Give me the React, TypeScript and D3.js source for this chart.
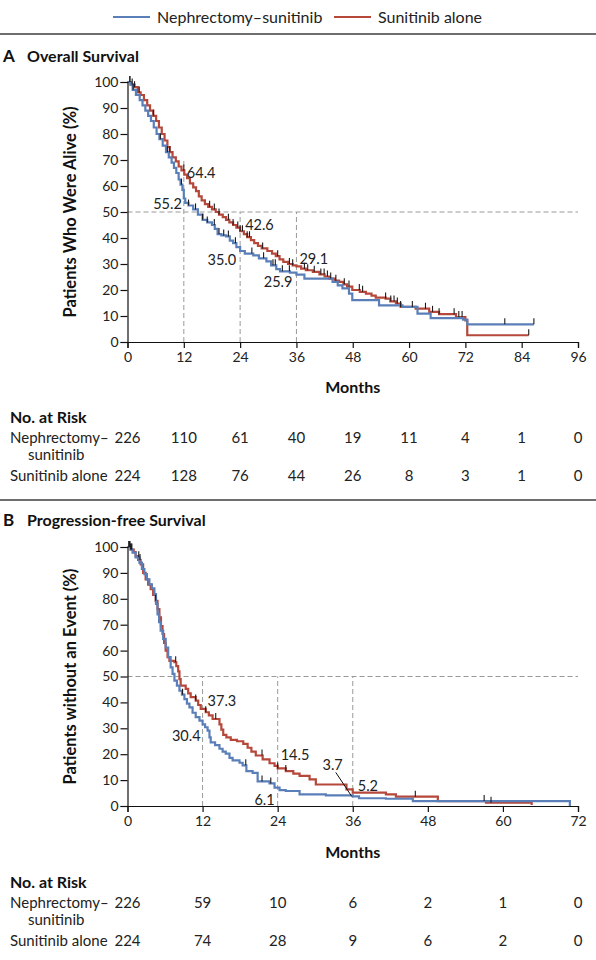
import { useEffect, useRef } from 'react';
import * as d3 from 'd3';

// legend / series
const seriesNames = ['Nephrectomy–sunitinib', 'Sunitinib alone'];
const seriesColors = ['#5a7fb8', '#b5473b'];

// A: overall survival, step points [month, %]
const osNephTimes = [0, 0.6, 1.1, 1.8, 2.6, 3.2, 3.8, 4.4, 5.0, 5.6, 6.2, 6.8, 7.5, 8.2, 8.8, 9.4, 9.9, 10.4, 10.9, 11.3, 11.7, 12, 12.3, 13, 14, 15, 16, 17, 18, 18.6, 19.2, 20, 21, 21.8, 22.5, 23.2, 24, 25, 26.8, 28, 29.6, 30.6, 31.7, 32.5, 34.6, 36, 37.7, 43.7, 44.8, 45.8, 47.2, 47.9, 53.6, 58.6, 61.8, 64.6, 71.5, 72.4];
const osNephSurv = [100, 99, 97, 95, 93, 91, 89, 87, 85, 82.5, 80, 78, 75.5, 73, 71, 69, 67, 65, 62.5, 60.5, 58.5, 55.2, 53.5, 52.5, 51, 49, 47, 46, 45, 43.5, 41.5, 41, 40.6, 39, 38, 36.5, 35.0, 34, 33.3, 32.2, 31, 29.5, 28, 27.2, 26.7, 25.9, 24.4, 23.1, 21.8, 20.6, 18.6, 16.1, 14.1, 13.5, 10.9, 9.2, 8.6, 6.8];
const osNephEnd = 86.6;
const osNephCensor = [0.5, 1.2, 7, 8.5, 11.5, 13, 14.5, 16, 17, 18.5, 19.5, 20.5, 21.5, 23, 26.5, 29, 31, 31.5, 33, 34.5, 80.4, 86.6];

const osSunTimes = [0, 0.8, 1.5, 2.2, 2.8, 3.5, 4.2, 4.8, 5.5, 6.1, 6.7, 7.3, 7.9, 8.5, 9.0, 9.6, 10.3, 10.9, 11.5, 12.1, 12.7, 13.3, 14, 14.6, 15.2, 15.8, 16.5, 17.2, 18, 18.8, 19.5, 20.3, 21, 21.7, 22.5, 23.2, 24, 24.8, 25.5, 26.3, 27, 27.8, 28.6, 29.8, 30.8, 31.6, 32.4, 33.2, 34.2, 35.2, 36, 37, 38, 39.5, 40.9, 42, 43, 44.2, 45.1, 46, 46.8, 47.9, 49.5, 50.8, 52, 52.9, 55, 56, 57.2, 58.2, 61.4, 64.3, 66.4, 70, 72, 72.4];
const osSunSurv = [100, 99, 98, 96, 95, 93, 91, 89, 87, 85, 82.5, 80, 77.5, 75, 73, 71, 69.5, 67.5, 66, 64.4, 63, 61, 59.5, 58, 56, 54.5, 53, 52, 51, 50, 49, 48, 47, 46, 45, 44, 42.6, 41.5, 40.3, 39.2, 38, 37, 36, 35, 34, 33, 31.8, 30.8, 30, 29.5, 29.1, 28.2, 27.6, 27, 26, 25.2, 24.4, 23.6, 23.1, 22.2, 21.3, 20, 19.3, 18.6, 17.8, 17.1, 16.7, 15.6, 14.8, 13.5, 12.8, 11.6, 10.7, 9.6, 8.3, 2.6];
const osSunEnd = 85.5;
const osSunCensor = [0.5, 1, 1.5, 2.5, 5.5, 9, 12, 17.5, 18.5, 19.5, 21.5, 22.5, 23.5, 24, 24.5, 25.5, 26, 28.8, 32, 34.5, 35.2, 37.7, 38.4, 39.8, 41.2, 41.9, 42.6, 43.3, 44.4, 46.2, 47.2, 49.4, 50.1, 55, 56.1, 56.8, 57.5, 58.2, 60.7, 63.5, 65, 66.4, 69.6, 70.6, 71.3, 85.5];

// B: progression-free survival
const pfsNephTimes = [0, 0.5, 0.8, 1.3, 1.9, 2.3, 2.7, 3.1, 3.5, 3.9, 4.3, 4.55, 4.8, 5.05, 5.3, 5.7, 6.1, 6.5, 6.9, 7.2, 7.5, 7.9, 8.3, 8.7, 9.1, 9.5, 9.9, 10.4, 10.9, 11.5, 12, 12.4, 12.8, 13.1, 13.3, 14, 14.7, 15.2, 15.7, 16.3, 16.8, 17.9, 18.4, 19, 20, 20.8, 22.7, 23.5, 24.3, 25.3, 27.5, 31.7, 36, 37, 41.3, 45.6, 70.7];
const pfsNephSurv = [100, 99, 97.8, 96, 94, 91.5, 89.5, 87.5, 85.6, 84, 81.8, 78, 74, 71, 67.7, 64.5, 61.2, 57.5, 53.5, 51, 48.4, 46.5, 44.5, 43, 41.3, 39.5, 38.1, 36, 34.3, 33, 31.5, 30.4, 29.1, 26.5, 24.6, 23.5, 22.1, 21, 20.2, 18.6, 17.6, 16.7, 15.7, 13.5, 12.8, 9.5, 8.7, 7.1, 6.1, 5.8, 4.5, 4.1, 3.7, 3, 2.8, 1.9, 0];
const pfsNephEnd = 70.7;
const pfsNephCensor = [0.2, 0.4, 0.6, 1.8, 8.8, 18.9, 21.5, 22.9];

const pfsSunTimes = [0, 0.5, 1, 1.3, 1.7, 2.1, 2.5, 2.9, 3.3, 3.7, 4.1, 4.5, 4.8, 5.1, 5.35, 5.6, 5.85, 6.1, 6.4, 6.7, 7.5, 7.8, 8.1, 8.3, 8.5, 9.3, 9.7, 10.1, 10.9, 11.3, 11.7, 12.5, 13, 13.6, 14.7, 15, 15.3, 15.8, 16.5, 17.5, 18.5, 19.2, 19.8, 20.5, 21.6, 22.7, 23.5, 24, 25.3, 26.5, 27.5, 29.1, 30.1, 35, 36, 41.3, 42.9, 49.6, 57.3, 64.6];
const pfsSunSurv = [100, 99, 98, 96.5, 95, 93.3, 90, 87.5, 85.5, 83.7, 81.5, 79.2, 76, 72.8, 69.5, 66.4, 63, 60, 57.5, 56, 55.5, 54, 52, 49, 46.5, 45.2, 43.5, 42, 40.7, 39, 37.5, 36.2, 35, 33.6, 31.5, 29.5, 27.5, 26.5, 25.5, 25, 24, 22.5, 21, 19.5, 18, 16.5, 15.5, 14.5, 13.5, 12.5, 11.6, 10.3, 8.3, 6.4, 5.2, 4.5, 3.6, 1.9, 1.3, 0.4];
const pfsSunEnd = 64.6;
const pfsSunCensor = [0.3, 0.5, 0.7, 2, 4.5, 7.7, 10.9, 12.5, 14.1, 21.5, 24, 25.3, 46, 57, 58.1];

// risk tables
const osRiskMonths = [0, 12, 24, 36, 48, 60, 72, 84, 96];
const osRiskNeph = [226, 110, 61, 40, 19, 11, 4, 1, 0];
const osRiskSun = [224, 128, 76, 44, 26, 8, 3, 1, 0];
const pfsRiskMonths = [0, 12, 24, 36, 48, 60, 72];
const pfsRiskNeph = [226, 59, 10, 6, 2, 1, 0];
const pfsRiskSun = [224, 74, 28, 9, 6, 2, 0];

// point labels
const osLabelMonths = [12, 12, 24, 24, 36, 36];
const osLabelValues = [64.4, 55.2, 42.6, 35.0, 29.1, 25.9];
const pfsLabelMonths = [12, 12, 24, 24, 36, 36];
const pfsLabelValues = [37.3, 30.4, 14.5, 6.1, 3.7, 5.2];

const yTicks = [0, 10, 20, 30, 40, 50, 60, 70, 80, 90, 100];
const FONT = 'Lato, "Open Sans", sans-serif';

type Pt = [number, number];
const zipPts = (t: number[], s: number[]): Pt[] => t.map((d, i) => [d, s[i]]);
const survAt = (pts: Pt[], t: number) => {
  let v = pts[0][1];
  for (const p of pts) { if (p[0] <= t) v = p[1]; else break; }
  return v;
};

const App = () => {
  const ref = useRef<SVGSVGElement>(null);

  useEffect(() => {
    if (!ref.current) return;
    const svg = d3.select(ref.current);
    svg.selectAll('*').remove();
    svg.style('font-family', FONT);

    // legend
    const legX = [113, 334];
    seriesNames.forEach((name, i) => {
      svg.append('line').attr('x1', legX[i]).attr('x2', legX[i] + 37).attr('y1', 17).attr('y2', 17)
        .attr('stroke', seriesColors[i]).attr('stroke-width', 2);
      svg.append('text').attr('x', legX[i] + 44).attr('y', 22.5).style('font-size', '16px').attr('fill', '#222').text(name);
    });

    const rule = (y: number) => svg.append('line').attr('x1', 0).attr('x2', 596).attr('y1', y).attr('y2', y)
      .attr('stroke', '#6e6e6e').attr('stroke-width', 2);
    rule(34);
    rule(500);

    const drawPanel = (opts: {
      top: number; letter: string; title: string; yLabel: string; xMax: number;
      y0: number; y100: number;
      neph: Pt[]; nephEnd: number; nephCensor: number[];
      sun: Pt[]; sunEnd: number; sunCensor: number[];
      vLines: [number, number][];
      labelMonths: number[]; labelValues: number[];
      labelOffsets: [number, number, string][];
      riskMonths: number[]; riskNeph: number[]; riskSun: number[];
      riskTop: number; monthsY: number;
    }) => {
      const x = d3.scaleLinear().domain([0, opts.xMax]).range([127.5, 578]);
      const y = d3.scaleLinear().domain([0, 100]).range([opts.y0, opts.y100]);

      svg.append('text').attr('x', 3).attr('y', opts.top).style('font-size', '17px').style('font-weight', 700)
        .attr('fill', '#111').text(opts.letter);
      svg.append('text').attr('x', 27).attr('y', opts.top).style('font-size', '16px').style('font-weight', 700)
        .attr('fill', '#111').text(opts.title);

      // reference dashes
      const dash = svg.append('g').attr('stroke', '#9a9a9a').attr('stroke-width', 1).attr('stroke-dasharray', '5,3');
      dash.append('line').attr('x1', x(0)).attr('x2', x(opts.xMax)).attr('y1', y(50)).attr('y2', y(50));
      opts.vLines.forEach(([m, top]) => {
        dash.append('line').attr('x1', x(m)).attr('x2', x(m)).attr('y1', y(0)).attr('y2', y(top));
      });

      // curves
      const line = d3.line<Pt>().x(d => x(d[0])).y(d => y(d[1])).curve(d3.curveStepAfter);
      const groups: [Pt[], number, number[], string][] = [
        [opts.sun, opts.sunEnd, opts.sunCensor, seriesColors[1]],
        [opts.neph, opts.nephEnd, opts.nephCensor, seriesColors[0]],
      ];
      groups.forEach(([pts, end, , col]) => {
        const all: Pt[] = [...pts, [end, pts[pts.length - 1][1]]];
        svg.append('path').attr('d', line(all)).attr('fill', 'none').attr('stroke', col).attr('stroke-width', 2.2);
      });
      groups.forEach(([pts, , cens]) => {
        svg.append('g').selectAll('line').data(cens).join('line')
          .attr('x1', d => x(d)).attr('x2', d => x(d))
          .attr('y1', d => y(survAt(pts, d))).attr('y2', d => y(survAt(pts, d)) - 6)
          .attr('stroke', '#1a1a1a').attr('stroke-width', 1.1);
      });

      // axes
      const yAxis = svg.append('g').attr('transform', `translate(${x(0)},0)`)
        .call(d3.axisLeft(y).tickValues(yTicks).tickSize(7).tickPadding(2));
      const xAxis = svg.append('g').attr('transform', `translate(0,${y(0)})`)
        .call(d3.axisBottom(x).tickValues(d3.range(0, opts.xMax + 1, 12)).tickSize(6).tickPadding(4));
      [yAxis, xAxis].forEach(a => {
        a.select('.domain').attr('stroke', '#111').attr('stroke-width', 1.2);
        a.selectAll('.tick line').attr('stroke', '#111').attr('stroke-width', 1.2);
        a.selectAll('.tick text').style('font-size', '14px').style('font-family', FONT).attr('fill', '#222');
      });

      svg.append('text').attr('transform', `translate(76,${y(50)}) rotate(-90)`).attr('text-anchor', 'middle')
        .style('font-size', '16.5px').style('font-weight', 700).attr('fill', '#111').text(opts.yLabel);
      svg.append('text').attr('x', (x.range()[0] + x.range()[1]) / 2).attr('y', opts.monthsY).attr('text-anchor', 'middle')
        .style('font-size', '16px').style('font-weight', 700).attr('fill', '#111').text('Months');

      // value labels
      opts.labelValues.forEach((v, i) => {
        const [dx, dy, anchor] = opts.labelOffsets[i];
        svg.append('text').attr('x', x(opts.labelMonths[i]) + dx).attr('y', y(v) + dy)
          .attr('text-anchor', anchor).style('font-size', '14.5px').attr('fill', '#222').text(v.toFixed(1));
      });

      // risk table
      const rt = opts.riskTop;
      svg.append('text').attr('x', 10).attr('y', rt).style('font-size', '16px').style('font-weight', 700)
        .attr('fill', '#111').text('No. at Risk');
      svg.append('text').attr('x', 10).attr('y', rt + 20).style('font-size', '15px').attr('fill', '#222').text('Nephrectomy–');
      svg.append('text').attr('x', 28).attr('y', rt + 37).style('font-size', '15px').attr('fill', '#222').text('sunitinib');
      svg.append('text').attr('x', 10).attr('y', rt + 58).style('font-size', '15px').attr('fill', '#222').text('Sunitinib alone');
      [[opts.riskNeph, rt + 20], [opts.riskSun, rt + 58]].forEach(([vals, yy]) => {
        (vals as number[]).forEach((v, i) => {
          svg.append('text').attr('x', x(opts.riskMonths[i])).attr('y', yy as number).attr('text-anchor', 'middle')
            .style('font-size', '15px').attr('fill', '#222').text(v);
        });
      });
      return { x, y };
    };

    drawPanel({
      top: 62, letter: 'A', title: 'Overall Survival', yLabel: 'Patients Who Were Alive (%)', xMax: 96,
      y0: 342, y100: 82,
      neph: zipPts(osNephTimes, osNephSurv), nephEnd: osNephEnd, nephCensor: osNephCensor,
      sun: zipPts(osSunTimes, osSunSurv), sunEnd: osSunEnd, sunCensor: osSunCensor,
      vLines: [[12, 70], [24, 50], [36, 50]],
      labelMonths: osLabelMonths, labelValues: osLabelValues,
      labelOffsets: [[3, 3, 'start'], [-2, 11, 'end'], [5, -1, 'start'], [-4, 14, 'end'], [3, -2, 'start'], [-4, 12, 'end']],
      riskMonths: osRiskMonths, riskNeph: osRiskNeph, riskSun: osRiskSun,
      riskTop: 423, monthsY: 393,
    });

    const b = drawPanel({
      top: 526, letter: 'B', title: 'Progression-free Survival', yLabel: 'Patients without an Event (%)', xMax: 72,
      y0: 806, y100: 547,
      neph: zipPts(pfsNephTimes, pfsNephSurv), nephEnd: pfsNephEnd, nephCensor: pfsNephCensor,
      sun: zipPts(pfsSunTimes, pfsSunSurv), sunEnd: pfsSunEnd, sunCensor: pfsSunCensor,
      vLines: [[12, 50], [24, 50], [36, 50]],
      labelMonths: pfsLabelMonths, labelValues: pfsLabelValues,
      labelOffsets: [[5, -3, 'start'], [-2, 14, 'end'], [3, -8, 'start'], [-3, 15, 'end'], [-10, -26, 'end'], [5, -2, 'start']],
      riskMonths: pfsRiskMonths, riskNeph: pfsRiskNeph, riskSun: pfsRiskSun,
      riskTop: 888, monthsY: 858,
    });

    // leader line for 3.7
    svg.append('line').attr('x1', b.x(36) - 17).attr('y1', b.y(3.7) - 24)
      .attr('x2', b.x(36) - 1).attr('y2', b.y(3.7)).attr('stroke', '#111').attr('stroke-width', 1);
  }, []);

  return (
    <svg ref={ref} width={596} height={960}
      style={{ position: 'absolute', left: 0, top: 0, background: '#fff' }} />
  );
};

export default App;
